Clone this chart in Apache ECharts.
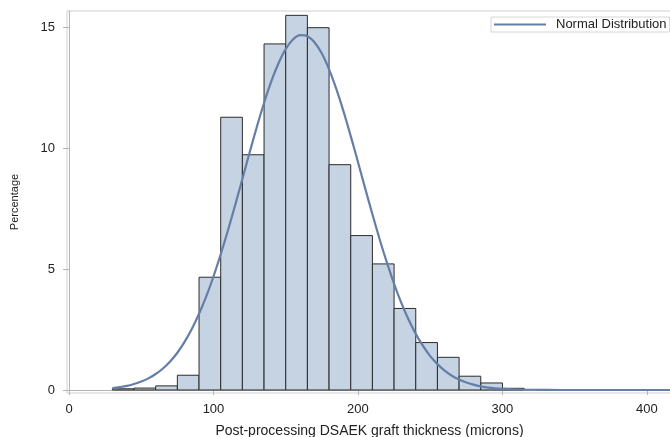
<!DOCTYPE html>
<html>
<head>
<meta charset="utf-8">
<script src="https://cdn.jsdelivr.net/npm/echarts@6/dist/echarts.min.js"></script>
<style>
  html, body { margin: 0; padding: 0; background: #fff; }
  #chart { width: 670px; height: 437px; }
</style>
</head>
<body>
<div id="chart"></div>
<script>
// histogram bins (microns) and their percentages
const binWidth = 15;
const binStart = [30, 45, 60, 75, 90, 105, 120, 135, 150, 165, 180, 195, 210, 225, 240, 255, 270, 285, 300];
const percent = [0.05, 0.08, 0.17, 0.61, 4.66, 11.27, 9.72, 14.30, 15.48, 14.97, 9.31, 6.38, 5.21, 3.37, 1.96, 1.35, 0.57, 0.29, 0.07];

// normal curve
const curveX = [30, 35, 40, 45, 50, 55, 60, 65, 70, 75, 80, 85, 90, 95, 100, 105, 110, 115, 120, 125,
  130, 135, 140, 145, 150, 155, 160, 165, 170, 175, 180, 185, 190, 195, 200, 205, 210, 215, 220, 225,
  230, 235, 240, 245, 250, 255, 260, 265, 270, 275, 280, 285, 290, 295, 300, 310, 320, 340, 417];
const curveY = [0.08, 0.12, 0.17, 0.25, 0.35, 0.48, 0.66, 0.89, 1.18, 1.54, 1.99, 2.52, 3.15, 3.87, 4.69, 5.61, 6.59, 7.64, 8.72, 9.81,
  10.87, 11.86, 12.75, 13.50, 14.09, 14.48, 14.66, 14.62, 14.36, 13.90, 13.25, 12.44, 11.51, 10.49, 9.42, 8.33, 7.26, 6.23, 5.27, 4.39,
  3.60, 2.91, 2.32, 1.82, 1.40, 1.07, 0.80, 0.59, 0.43, 0.31, 0.22, 0.15, 0.10, 0.07, 0.05, 0.02, 0.01, 0, 0];

const xTicks = [0, 100, 200, 300, 400];
const yTicks = [0, 5, 10, 15];

const font = 'Liberation Sans, Arial, sans-serif';
const axisGray = '#b4b4b4';
const curveColor = '#647ea6';

const chart = echarts.init(document.getElementById('chart'));

chart.setOption({
  backgroundColor: '#fff',
  animation: false,
  grid: {
    left: 67, right: -2, top: 11, bottom: 44,
    outerBoundsMode: 'none',
    containLabel: false,
    show: true, borderColor: '#cfcfcf', borderWidth: 1
  },
  legend: {
    data: [{ name: 'Normal Distribution', icon: 'rect' }],
    left: 491, top: 17,
    padding: [1, 3, 1, 3],
    borderColor: '#d6d6d6', borderWidth: 1,
    itemWidth: 52, itemHeight: 2,
    textStyle: { fontFamily: font, fontSize: 13, color: '#222', padding: [0, 0, 0, 5] }
  },
  xAxis: {
    type: 'value',
    min: -1.39, max: 417.36,
    name: 'Post-processing DSAEK graft thickness (microns)',
    nameLocation: 'middle', nameGap: 31,
    nameTextStyle: { fontFamily: font, fontSize: 14, color: '#222' },
    axisLine: { show: true, lineStyle: { color: axisGray, width: 1 } },
    axisTick: { show: true, length: 5, customValues: xTicks, lineStyle: { color: axisGray } },
    axisLabel: { customValues: xTicks, margin: 10, fontFamily: font, fontSize: 13, color: '#222' },
    splitLine: { show: false }
  },
  yAxis: {
    type: 'value',
    min: -0.124, max: 15.66,
    name: 'Percentage',
    nameLocation: 'middle', nameGap: 47,
    nameTextStyle: { fontFamily: font, fontSize: 11, color: '#222' },
    axisLine: { show: true, lineStyle: { color: axisGray, width: 1 } },
    axisTick: { show: true, length: 6, customValues: yTicks, lineStyle: { color: axisGray } },
    axisLabel: { customValues: yTicks, margin: 12, fontFamily: font, fontSize: 13, color: '#222' },
    splitLine: { show: false }
  },
  series: [
    {
      name: 'Histogram',
      type: 'custom',
      data: binStart.map((s, i) => [s, s + binWidth, percent[i]]),
      encode: { x: [0, 1], y: 2 },
      renderItem: function (params, api) {
        const p0 = api.coord([api.value(0), 0]);
        const p1 = api.coord([api.value(1), api.value(2)]);
        return {
          type: 'rect',
          shape: { x: p0[0], y: p1[1], width: p1[0] - p0[0], height: p0[1] - p1[1] },
          style: { fill: '#c6d3e3', stroke: '#2b2b2b', lineWidth: 1 }
        };
      },
      z: 2
    },
    {
      name: 'Normal Distribution',
      type: 'line',
      data: curveX.map((x, i) => [x, curveY[i]]),
      smooth: 0.3,
      symbol: 'none',
      lineStyle: { color: curveColor, width: 2.2 },
      itemStyle: { color: curveColor },
      z: 3
    }
  ]
});
</script>
</body>
</html>
